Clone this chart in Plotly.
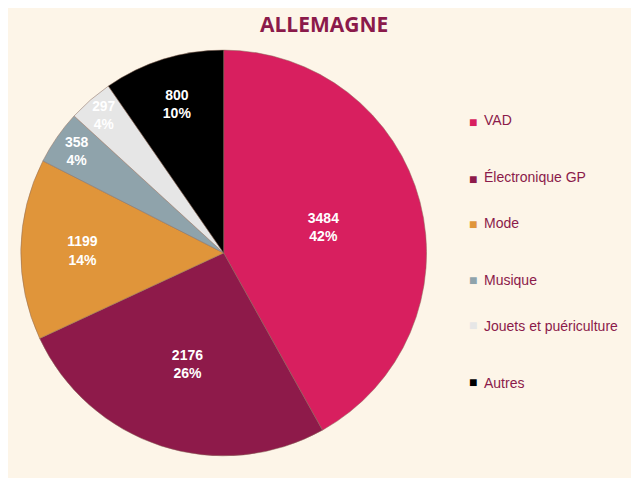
import plotly.graph_objects as go

labels = ["VAD", "Électronique GP", "Mode", "Musique", "Jouets et puériculture", "Autres"]
values = [3484, 2176, 1199, 358, 297, 800]
colors = ["#d81f5f", "#8e1a4a", "#e0953a", "#8fa3ab", "#e6e6e6", "#000000"]

fig = go.Figure(go.Pie(
    labels=labels, values=values, sort=False, direction="clockwise", rotation=0,
    marker=dict(colors=colors, line=dict(color="#8b6a5a", width=0.5)),
    texttemplate="<b>%{value}<br>%{percent:.0%}</b>", textposition="inside",
    insidetextorientation="horizontal",
    textfont=dict(family="Arial", size=14, color="white"),
    domain=dict(x=[0.02, 0.655], y=[0.06, 0.915]),
    showlegend=False, hoverinfo="label+value+percent",
))

# legend drawn as annotations to get the wide spacing
annotations = [dict(text="<b>ALLEMAGNE</b>", x=0.495, y=1.0, yanchor="top", xref="paper", yref="paper",
                    showarrow=False, font=dict(family="Open Sans", size=21, color="#8b1a4a"))]
for i, (lab, col) in enumerate(zip(labels, colors)):
    y = 1 - (102 + i * 56.5) / 478
    annotations.append(dict(text="■", x=0.718, y=y, xref="paper", yref="paper", showarrow=False,
                            xanchor="left", font=dict(size=14, color=col)))
    annotations.append(dict(text=lab, x=0.742, y=y, xref="paper", yref="paper", showarrow=False,
                            xanchor="left", font=dict(family="Arial", size=14, color="#8b1a4a")))

fig.update_layout(
    width=639, height=478, margin=dict(l=0, r=0, t=0, b=0),
    paper_bgcolor="#fdf5e8", plot_bgcolor="#fdf5e8",
    annotations=annotations,
)
fig.write_html("out.html")
